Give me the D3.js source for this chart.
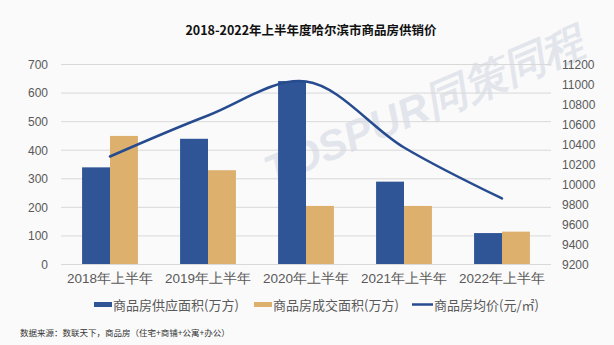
<!DOCTYPE html>
<html><head><meta charset="utf-8">
<script src="https://cdn.jsdelivr.net/npm/d3@7"></script>
<style>
html,body{margin:0;padding:0;background:#fafafa;}
svg{display:block;font-family:"Noto Sans CJK SC","Noto Sans",sans-serif;}
</style></head>
<body>
<svg id="chart" width="614" height="345"></svg>
<script>
const title = "2018-2022年上半年度哈尔滨市商品房供销价";
const categories = ["2018年上半年","2019年上半年","2020年上半年","2021年上半年","2022年上半年"];
const supplyArea = [340, 440, 642, 290, 110];
const dealArea = [450, 330, 205, 205, 115];
const avgPrice = [10280, 10690, 11030, 10370, 9860];
const leftTicks = [0,100,200,300,400,500,600,700];
const rightTicks = [9200,9400,9600,9800,10000,10200,10400,10600,10800,11000,11200];
const seriesNames = ["商品房供应面积(万方)","商品房成交面积(万方)","商品房均价(元/㎡)"];
const sourceNote = "数据来源：数联天下，商品房（住宅+商铺+公寓+办公）";
const watermark = "TOSPUR同策同程";

const colors = {supply:"#2F5597", deal:"#DDB06E", line:"#264B8F", grid:"#D9D9D9", text:"#595959"};

const svg = d3.select("#chart");
const plot = {left:61, right:551, top:64.5, bottom:264.5};

// faint background watermark
svg.append("text").attr("transform","translate(272,186) rotate(-23)")
  .attr("fill","#B9C1D4").attr("opacity",0.35)
  .style("font-family","Liberation Sans, Arial, sans-serif").style("font-weight","bold").style("font-style","italic")
  .attr("font-size",42).text(watermark);

const x0 = d3.scaleBand().domain(categories).range([plot.left, plot.right]).paddingInner(0.43).paddingOuter(0.215);
const x1 = d3.scaleBand().domain(["supply","deal"]).range([0, x0.bandwidth()]);
const yL = d3.scaleLinear().domain([0,700]).range([plot.bottom, plot.top]);
const yR = d3.scaleLinear().domain([9200,11200]).range([plot.bottom, plot.top]);

// gridlines
svg.append("g").selectAll("line").data(leftTicks).join("line")
  .attr("x1", plot.left).attr("x2", plot.right)
  .attr("y1", d=>yL(d)).attr("y2", d=>yL(d))
  .attr("stroke", colors.grid).attr("stroke-width",1);

// left axis
const axL = svg.append("g").attr("transform",`translate(${plot.left},0)`)
  .call(d3.axisLeft(yL).tickValues(leftTicks).tickSize(0).tickPadding(13));
axL.select(".domain").remove();
axL.selectAll("text").attr("fill",colors.text).style("font-size","12px").style("font-family","Liberation Sans, Arial, sans-serif");

// right axis
const axR = svg.append("g").attr("transform",`translate(${plot.right},0)`)
  .call(d3.axisRight(yR).tickValues(rightTicks).tickSize(0).tickPadding(11).tickFormat(d3.format("d")));
axR.select(".domain").remove();
axR.selectAll("text").attr("fill",colors.text).style("font-size","12px").style("font-family","Liberation Sans, Arial, sans-serif");

// bars
const rows = categories.map((c,i)=>({cat:c, supply:supplyArea[i], deal:dealArea[i]}));
svg.append("g").selectAll("g").data(rows).join("g")
  .attr("transform", d=>`translate(${x0(d.cat)},0)`)
  .selectAll("rect").data(d=>["supply","deal"].map(k=>({k, v:d[k]}))).join("rect")
  .attr("x", d=>x1(d.k)).attr("width", x1.bandwidth())
  .attr("y", d=>yL(d.v)).attr("height", d=>yL(0)-yL(d.v))
  .attr("fill", d=>colors[d.k]);

// baseline
svg.append("line").attr("x1",plot.left).attr("x2",plot.right)
  .attr("y1",yL(0)).attr("y2",yL(0)).attr("stroke",colors.grid);

// x axis
const axX = svg.append("g").attr("transform",`translate(0,${plot.bottom})`)
  .call(d3.axisBottom(x0).tickSize(0).tickPadding(9));
axX.select(".domain").remove();
axX.selectAll("text").attr("fill",colors.text).style("font-size","13.5px");

// line
const line = d3.line()
  .x((d,i)=>x0(categories[i]) + x0.bandwidth()/2)
  .y(d=>yR(d))
  .curve(d3.curveCatmullRom.alpha(0.5));
svg.append("path").datum(avgPrice).attr("d", line)
  .attr("fill","none").attr("stroke",colors.line).attr("stroke-width",2.5).attr("stroke-linecap","round");

// title
svg.append("text").attr("x",311).attr("y",35).attr("text-anchor","middle")
  .attr("fill","#111").style("font-size","12.5px").style("font-weight","bold").text(title);

// legend
const leg = svg.append("g").style("font-size","13px").attr("fill",colors.text);
const legItems = [
  {name:seriesNames[0], type:"rect", color:colors.supply, x:94},
  {name:seriesNames[1], type:"rect", color:colors.deal, x:254},
  {name:seriesNames[2], type:"line", color:colors.line, x:412}
];
legItems.forEach(it=>{
  if(it.type==="rect"){
    leg.append("rect").attr("x",it.x).attr("y",302).attr("width",18).attr("height",5).attr("fill",it.color);
    leg.append("text").attr("x",it.x+19).attr("y",309.5).text(it.name);
  } else {
    leg.append("line").attr("x1",it.x).attr("x2",it.x+21).attr("y1",304.5).attr("y2",304.5)
      .attr("stroke",it.color).attr("stroke-width",2.5);
    leg.append("text").attr("x",it.x+22).attr("y",309.5).text(it.name);
  }
});

// source
svg.append("text").attr("x",20).attr("y",336).attr("fill","#333")
  .style("font-size","8.5px").text(sourceNote);
</script>
</body></html>
